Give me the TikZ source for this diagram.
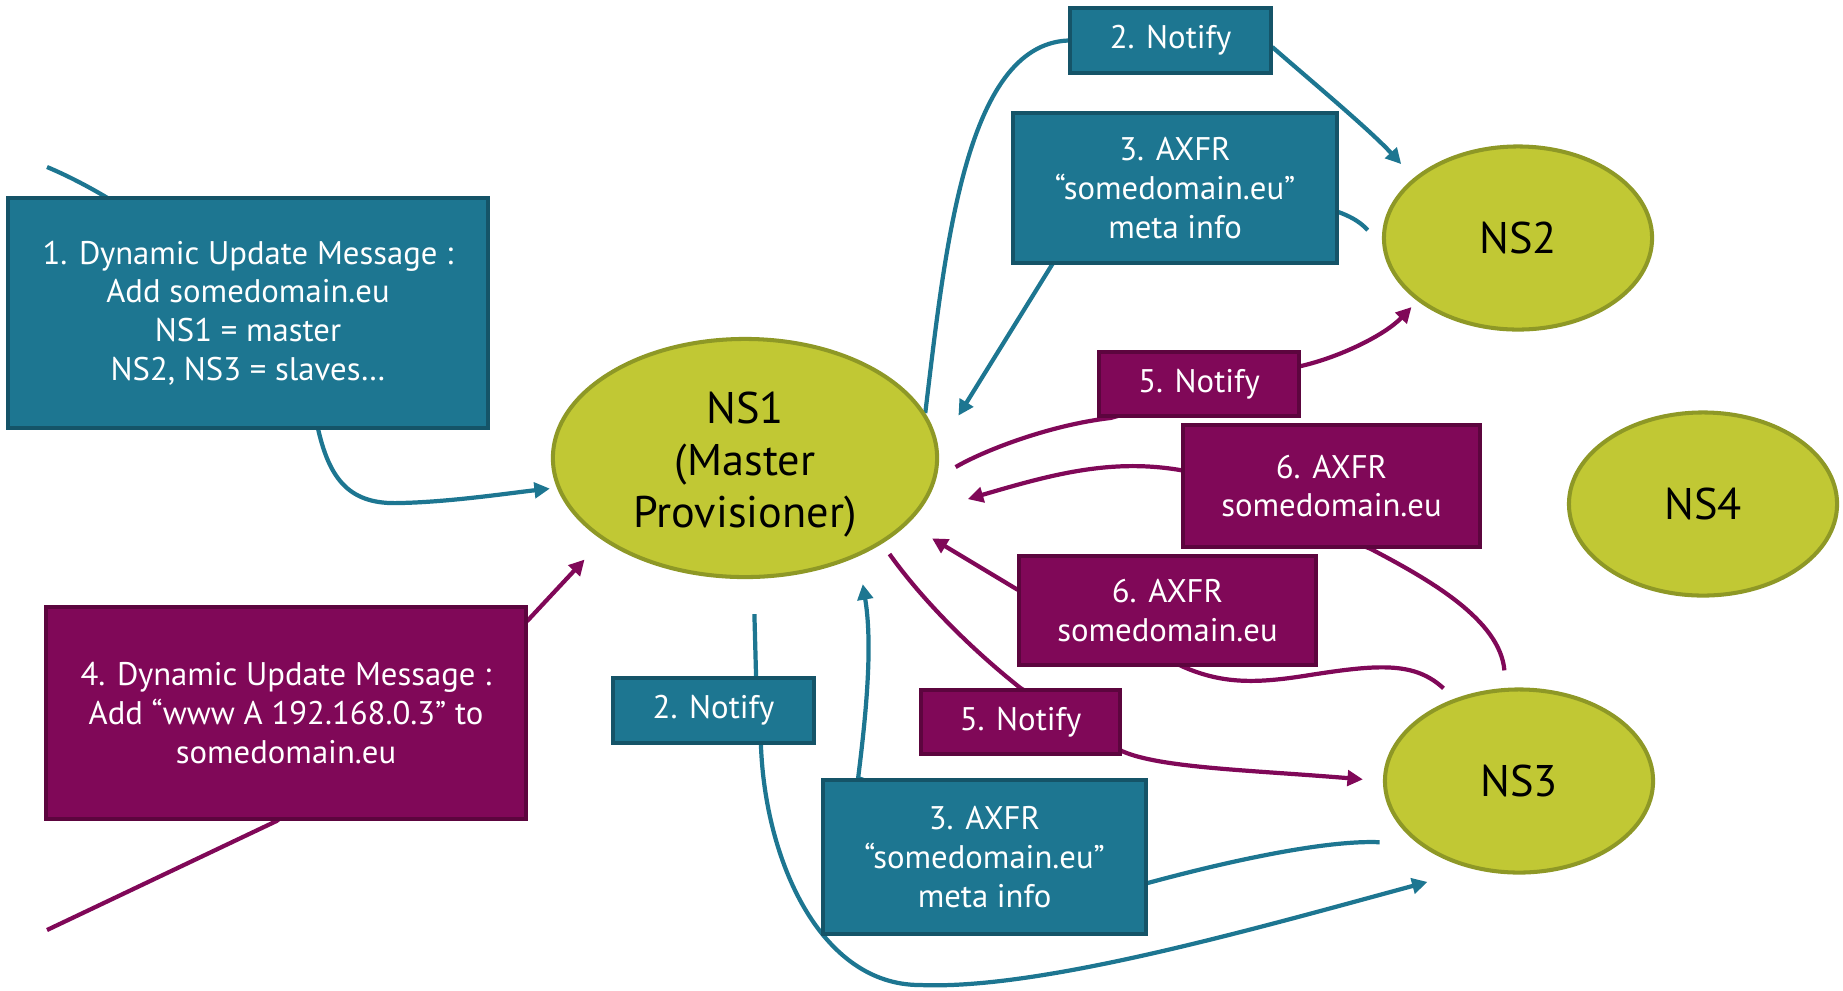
\documentclass[tikz,border=0pt]{standalone}
\usepackage{fontspec}
\setmainfont{PT Sans}
\usetikzlibrary{shapes.geometric,arrows.meta}

\definecolor{tealfill}{RGB}{29,118,145}
\definecolor{tealedge}{RGB}{21,84,104}
\definecolor{plumfill}{RGB}{128,8,88}
\definecolor{plumedge}{RGB}{92,5,62}
\definecolor{limefill}{RGB}{193,200,52}
\definecolor{limeedge}{RGB}{142,152,38}

\pgfdeclarelayer{bg}
\pgfsetlayers{bg,main}

\begin{document}
\begin{tikzpicture}[x=0.01cm,y=-0.01cm,>={Triangle[length=4.4pt,width=4.4pt]},
		msg/.style={rectangle,line width=1.1pt,text=white,align=center,inner sep=0pt,font=\fontsize{9.3}{11}\selectfont},
		tealbox/.style={msg,draw=tealedge,fill=tealfill},
		plumbox/.style={msg,draw=plumedge,fill=plumfill},
		server/.style={ellipse,draw=limeedge,fill=limefill,line width=1.15pt,inner sep=0pt,align=center,
			minimum width=2.68cm,minimum height=1.83cm,font=\fontsize{12.6}{14.8}\selectfont},
		tealflow/.style={draw=tealfill,line width=1.2pt},
		plumflow/.style={draw=plumfill,line width=1.2pt}]
	\useasboundingbox (0,0) rectangle (1843,990);

	\node[server,minimum width=3.84cm,minimum height=2.38cm] (ns1) at (745,458) {\rule{0pt}{12.5pt}NS1\\(Master\\Provisioner)};
	\node[server] (ns2) at (1518,238) {NS2};
	\node[server] (ns3) at (1519,781) {NS3};
	\node[server] (ns4) at (1703,504) {NS4};

	\node[tealbox,minimum width=4.8cm,minimum height=2.3cm] (upd1) at (248,313) {1. Dynamic Update Message :\\Add somedomain.eu\\NS1 = master\\NS2, NS3 = slaves…};
	\node[tealbox,minimum width=2.01cm,minimum height=0.65cm] (notA) at (1170.5,40.5) {2. Notify};
	\node[tealbox,minimum width=3.24cm,minimum height=1.5cm] (axfrA) at (1175,188) {3. AXFR\\“somedomain.eu”\\meta info};
	\node[plumbox,minimum width=2.0cm,minimum height=0.64cm] (notB) at (1199,384) {5. Notify};
	\node[plumbox,minimum width=2.97cm,minimum height=1.22cm] (axfrB) at (1331.5,486) {6. AXFR\\somedomain.eu};
	\node[plumbox,minimum width=2.97cm,minimum height=1.09cm] (axfrC) at (1167.5,610.5) {6. AXFR\\somedomain.eu};
	\node[plumbox,minimum width=1.99cm,minimum height=0.64cm] (notC) at (1020.5,722) {5. Notify};
	\node[tealbox,minimum width=2.01cm,minimum height=0.65cm] (notD) at (713.5,710.5) {2. Notify};
	\node[tealbox,minimum width=3.23cm,minimum height=1.54cm] (axfrD) at (984.5,857) {3. AXFR\\“somedomain.eu”\\meta info};
	\node[plumbox,minimum width=4.8cm,minimum height=2.12cm] (upd2) at (286,713) {4. Dynamic Update Message :\\Add “www A 192.168.0.3” to\\somedomain.eu};

	\coordinate (src1) at (47,167);
	\coordinate (src4) at (47,930);

	\begin{pgfonlayer}{bg}
		\draw[tealflow,->,shorten >=2pt] (src1) .. controls (150,210) and (300,330) .. (upd1.-59) .. controls (330,480) and (350,505) .. (400,503) .. controls (450,502) and (510,493) .. (ns1.189);
		\draw[tealflow,->,shorten >=5.3pt] (ns1.14) .. controls (945,250) and (965,45) .. (notA.west) -- (notA.-4) .. controls (1310,80) and (1370,130) .. (ns2.150);
		\draw[tealflow,->,shorten <=6.5pt,shorten >=10.8pt] (ns2.184) .. controls (1320,175) and (1090,205) .. (axfrA.212) -- (ns1.3);
		\draw[plumflow,->,shorten <=6.3pt,shorten >=2.4pt] (ns1.-6) .. controls (985,450) and (1050,425) .. (notB.201) -- (notB.10) .. controls (1340,357) and (1385,335) .. (ns2.212);
		\draw[plumflow,->,shorten <=5pt,shorten >=15pt] (ns3.98) .. controls (1500,620) and (1430,580) .. (axfrB.-58) -- (axfrB.174) .. controls (1110,458) and (1050,475) .. (ns1.-18);
		\draw[plumflow,->,shorten <=4.3pt,shorten >=8pt] (ns3.128) .. controls (1415,662) and (1380,664) .. (1310,675) .. controls (1260,683) and (1225,685) .. (axfrC.-74) -- (axfrC.172) -- (ns1.-22);
		\draw[plumflow,->,shorten <=3.6pt,shorten >=5.7pt] (ns1.-32) .. controls (915,590) and (960,640) .. (notC.north) -- (notC.-16) .. controls (1160,768) and (1250,770) .. (ns3.180);
		\draw[tealflow,->,shorten <=10pt,shorten >=13.7pt] (ns1.-86) -- (notD.39) -- (notD.-36) .. controls (765,860) and (820,985) .. (920,985) .. controls (1040,990) and (1250,930) .. (ns3.243);
		\draw[tealflow,->,shorten <=11pt,shorten >=8pt] (ns3.212) .. controls (1330,840) and (1240,858) .. (axfrD.-9) -- (axfrD.148) .. controls (868,700) and (872,640) .. (ns1.-41);
		\draw[plumflow,->,shorten >=7.5pt] (src4) -- (upd2.265) -- (upd2.21) -- (ns1.210);
	\end{pgfonlayer}
\end{tikzpicture}
\end{document}
